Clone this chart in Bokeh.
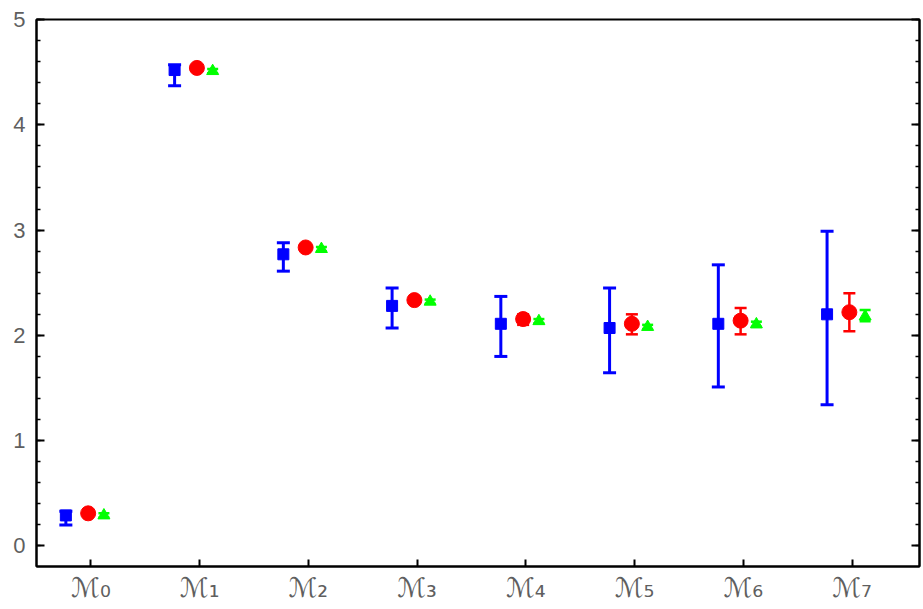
from bokeh.plotting import figure
from bokeh.models import Range1d, FixedTicker, LinearAxis, SingleIntervalTicker, CustomJSTickFormatter
from bokeh.embed import file_html
from bokeh.resources import INLINE

models = ["ℳ₀", "ℳ₁", "ℳ₂", "ℳ₃", "ℳ₄", "ℳ₅", "ℳ₆", "ℳ₇"]
idx = [0, 1, 2, 3, 4, 5, 6, 7]

blue_val = [0.29, 4.52, 2.77, 2.28, 2.11, 2.07, 2.11, 2.20]
blue_lo = [0.20, 4.37, 2.61, 2.07, 1.80, 1.645, 1.51, 1.34]
blue_hi = [0.33, 4.57, 2.88, 2.45, 2.37, 2.45, 2.67, 2.99]

red_val = [0.31, 4.54, 2.835, 2.335, 2.155, 2.11, 2.14, 2.22]
red_lo = [0.29, 4.52, 2.815, 2.315, 2.10, 2.01, 2.01, 2.04]
red_hi = [0.33, 4.56, 2.855, 2.355, 2.20, 2.20, 2.26, 2.40]

green_val = [0.29, 4.51, 2.82, 2.32, 2.135, 2.08, 2.105, 2.18]
green_lo = [0.27, 4.49, 2.80, 2.30, 2.115, 2.06, 2.08, 2.135]
green_hi = [0.31, 4.53, 2.84, 2.34, 2.155, 2.10, 2.13, 2.24]

BLUE = "#0000ff"
RED = "#ff0000"
GREEN = "#00ff00"

p = figure(width=921, height=605, output_backend="svg", toolbar_location=None,
           x_range=Range1d(-0.5, 7.62), y_range=Range1d(-0.195, 5.0),
           min_border_left=36, min_border_top=19, min_border_bottom=39, min_border_right=2)
p.xgrid.visible = False
p.ygrid.visible = False
p.outline_line_color = "black"
p.outline_line_width = 2
p.background_fill_color = "white"
p.border_fill_color = "white"

def series(vals, lo, hi, off, color, lw, cap):
    xs = [i + off for i in idx]
    p.segment(x0=xs, y0=lo, x1=xs, y1=hi, line_color=color, line_width=lw)
    p.dash(x=xs, y=lo, size=cap, line_color=color, line_width=lw)
    p.dash(x=xs, y=hi, size=cap, line_color=color, line_width=lw)
    return xs

bx = series(blue_val, blue_lo, blue_hi, -0.23, BLUE, 3, 13)
rx = series(red_val, red_lo, red_hi, -0.025, RED, 2.5, 12)
gx = series(green_val, green_lo, green_hi, 0.12, GREEN, 2.5, 11)

p.scatter(x=bx, y=blue_val, marker="square", size=11, fill_color=BLUE, line_color=BLUE)
p.scatter(x=rx, y=red_val, marker="circle", size=15, fill_color=RED, line_color=RED)
p.scatter(x=gx, y=green_val, marker="triangle", size=12, fill_color=GREEN, line_color=GREEN)

LABEL_COLOR = "#5f5f5f"
FONT = "Liberation Sans"

xa = p.xaxis[0]
xa.ticker = FixedTicker(ticks=idx)
xa.major_label_overrides = {i: m for i, m in zip(idx, models)}
xa.major_tick_in = 7
xa.major_tick_out = 0
xa.minor_tick_line_color = None
xa.axis_line_width = 2
xa.major_tick_line_width = 2
xa.major_label_text_font = "DejaVu Sans"
xa.major_label_text_font_size = "27px"
xa.major_label_text_color = LABEL_COLOR
xa.major_label_standoff = 5

ya = p.yaxis[0]
ya.ticker = SingleIntervalTicker(interval=1, num_minor_ticks=5)
ya.major_tick_in = 8
ya.major_tick_out = 0
ya.minor_tick_in = 4
ya.minor_tick_out = 0
ya.axis_line_width = 2
ya.major_tick_line_width = 2
ya.minor_tick_line_width = 1.5
ya.major_label_text_font = FONT
ya.major_label_text_font_size = "22px"
ya.major_label_text_color = LABEL_COLOR
ya.major_label_standoff = 11

ra = LinearAxis(ticker=SingleIntervalTicker(interval=1, num_minor_ticks=5),
                formatter=CustomJSTickFormatter(code="return ''"))
ra.major_tick_in = 8
ra.major_tick_out = 0
ra.minor_tick_in = 4
ra.minor_tick_out = 0
ra.axis_line_width = 2
ra.major_tick_line_width = 2
ra.minor_tick_line_width = 1.5
ra.major_label_standoff = 0
p.add_layout(ra, "right")

open("out.html", "w").write(file_html(p, INLINE))
